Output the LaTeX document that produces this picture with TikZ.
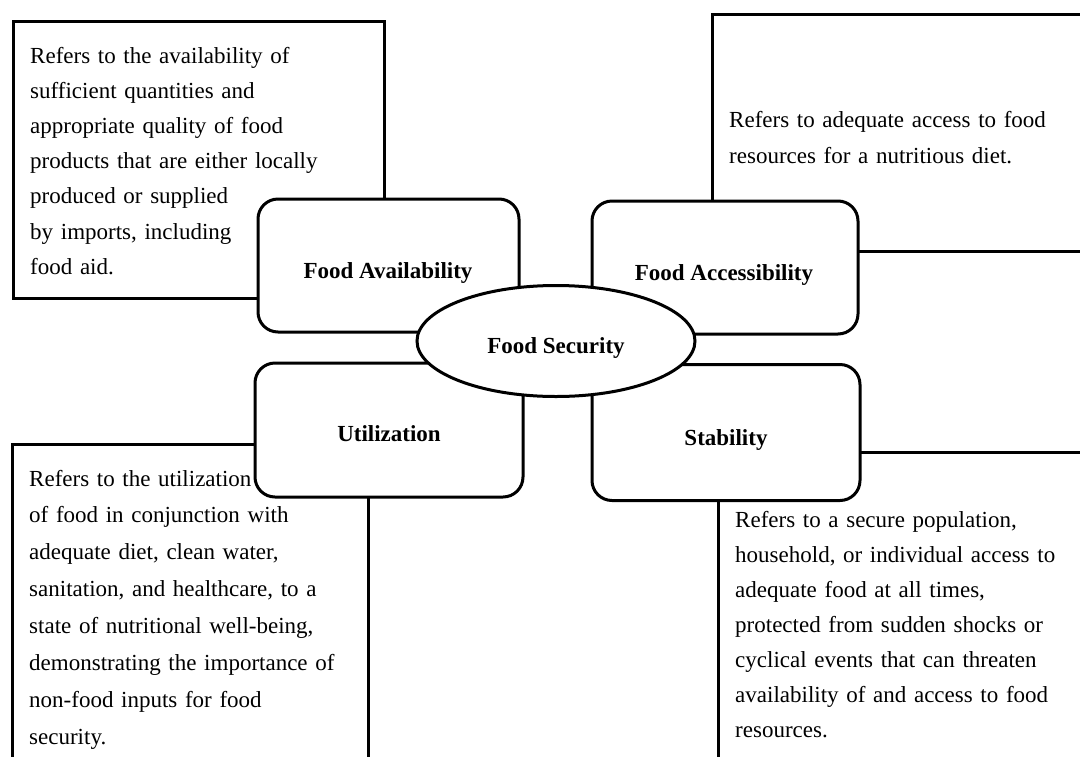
\documentclass[tikz,border=0pt]{standalone}
\usepackage{fontspec}
\setmainfont{Liberation Serif}
\usetikzlibrary{shapes.geometric}

\tikzset{
  panel/.style={draw=black, line width=3pt},
  facet/.style={draw=black, fill=white, line width=3pt, rounded corners=20pt,
                inner sep=0pt, minimum width=#1},
  facet/.default=264pt,
  hub/.style={draw=black, fill=white, ellipse, line width=3pt, inner sep=0pt,
              minimum width=278pt, minimum height=111pt},
  desc/.style={anchor=base west, inner sep=0pt, text width=420pt, align=left,
               font=\fontsize{23}{#1}\selectfont},
  desc/.default=35.5,
  facetlabel/.style={anchor=base, inner sep=0pt,
                     font=\fontsize{23}{27}\selectfont\bfseries},
}

\begin{document}
\begin{tikzpicture}[x=1pt, y=-1pt]
  \useasboundingbox (0,0) rectangle (1080,756);
  \clip (0,0) rectangle (1080,756);
  \fill[white] (0,0) rectangle (1080,756);

  % description panels behind the four facets
  \draw[panel] (13,21) rectangle (384,298);
  \draw[panel] (712,14) rectangle (1100,251);
  \draw[panel] (12,444) rectangle (368,780);
  \draw[panel] (718,452) rectangle (1100,780);

  % the four dimensions
  \node[facet=261pt, minimum height=133pt] (avail) at (388.5,265.5) {};
  \node[facet=266pt, minimum height=133pt] (access) at (725,267.5) {};
  \node[facet=268pt, minimum height=134pt] (util) at (389,430) {};
  \node[facet=268pt, minimum height=136pt] (stab) at (726,432.5) {};

  % central concept
  \node[hub] (sec) at (556,341) {};

  \node[facetlabel] (availlbl) at (388,278) {Food Availability};
  \node[facetlabel] (accesslbl) at (724,280) {Food Accessibility};
  \node[facetlabel] (seclbl) at (556,353) {Food Security};
  \node[facetlabel] (utillbl) at (389,441) {Utilization};
  \node[facetlabel] (stablbl) at (726,445) {Stability};

  % descriptions
  \node[desc=35.2] (availtxt) at (30,63) {Refers to the availability of\\
    sufficient quantities and\\
    appropriate quality of food\\
    products that are either locally\\
    produced or supplied\\
    by imports, including\\
    food aid.};
  \node[desc=36] (accesstxt) at (729,127) {Refers to adequate access to food\\
    resources for a nutritious diet.};
  \node[desc=36.9] (utiltxt) at (29,486) {Refers to the utilization\\
    of food in conjunction with\\
    adequate diet, clean water,\\
    sanitation, and healthcare, to a\\
    state of nutritional well-being,\\
    demonstrating the importance of\\
    non-food inputs for food\\
    security.};
  \node[desc=35] (stabtxt) at (735,527) {Refers to a secure population,\\
    household, or individual access to\\
    adequate food at all times,\\
    protected from sudden shocks or\\
    cyclical events that can threaten\\
    availability of and access to food\\
    resources.};
\end{tikzpicture}
\end{document}
